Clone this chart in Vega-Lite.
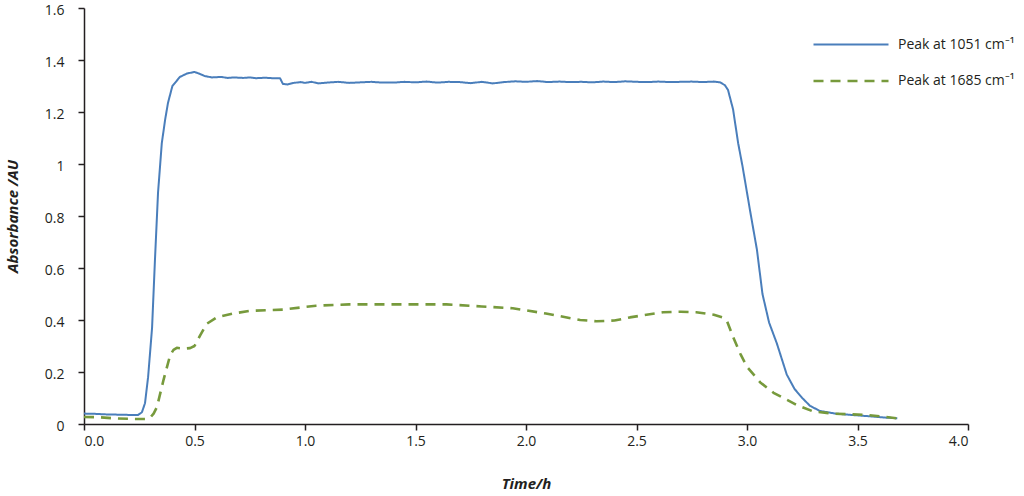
{
  "$schema": "https://vega.github.io/schema/vega-lite/v6.json",
  "width": 884,
  "height": 416,
  "autosize": {"type": "none"},
  "padding": {"left": 84, "top": 8, "right": 56, "bottom": 72},
  "config": {
    "view": {"stroke": null},
    "font": "Open Sans",
    "axis": {"grid": false, "domainColor": "#231f20", "tickColor": "#231f20", "domainWidth": 1.5, "tickWidth": 1.5, "tickSize": 6, "labelColor": "#231f20", "labelFont": "Open Sans", "labelFontSize": 14, "titleFont": "Open Sans", "titleFontSize": 15, "titleFontWeight": "bold", "titleFontStyle": "italic", "titleColor": "#231f20"}
  },
  "data": {"values": [
    {"t": 0.00, "a": 0.040, "s": "Peak at 1051 cm⁻¹"},
    {"t": 0.05, "a": 0.039, "s": "Peak at 1051 cm⁻¹"},
    {"t": 0.10, "a": 0.037, "s": "Peak at 1051 cm⁻¹"},
    {"t": 0.15, "a": 0.036, "s": "Peak at 1051 cm⁻¹"},
    {"t": 0.20, "a": 0.035, "s": "Peak at 1051 cm⁻¹"},
    {"t": 0.245, "a": 0.035, "s": "Peak at 1051 cm⁻¹"},
    {"t": 0.262, "a": 0.045, "s": "Peak at 1051 cm⁻¹"},
    {"t": 0.276, "a": 0.08, "s": "Peak at 1051 cm⁻¹"},
    {"t": 0.29, "a": 0.18, "s": "Peak at 1051 cm⁻¹"},
    {"t": 0.308, "a": 0.37, "s": "Peak at 1051 cm⁻¹"},
    {"t": 0.321, "a": 0.63, "s": "Peak at 1051 cm⁻¹"},
    {"t": 0.335, "a": 0.89, "s": "Peak at 1051 cm⁻¹"},
    {"t": 0.352, "a": 1.08, "s": "Peak at 1051 cm⁻¹"},
    {"t": 0.367, "a": 1.17, "s": "Peak at 1051 cm⁻¹"},
    {"t": 0.38, "a": 1.235, "s": "Peak at 1051 cm⁻¹"},
    {"t": 0.40, "a": 1.30, "s": "Peak at 1051 cm⁻¹"},
    {"t": 0.434, "a": 1.335, "s": "Peak at 1051 cm⁻¹"},
    {"t": 0.466, "a": 1.348, "s": "Peak at 1051 cm⁻¹"},
    {"t": 0.50, "a": 1.354, "s": "Peak at 1051 cm⁻¹"},
    {"t": 0.52, "a": 1.348, "s": "Peak at 1051 cm⁻¹"},
    {"t": 0.547, "a": 1.338, "s": "Peak at 1051 cm⁻¹"},
    {"t": 0.58, "a": 1.333, "s": "Peak at 1051 cm⁻¹"},
    {"t": 0.62, "a": 1.335, "s": "Peak at 1051 cm⁻¹"},
    {"t": 0.65, "a": 1.331, "s": "Peak at 1051 cm⁻¹"},
    {"t": 0.68, "a": 1.333, "s": "Peak at 1051 cm⁻¹"},
    {"t": 0.72, "a": 1.331, "s": "Peak at 1051 cm⁻¹"},
    {"t": 0.75, "a": 1.333, "s": "Peak at 1051 cm⁻¹"},
    {"t": 0.78, "a": 1.330, "s": "Peak at 1051 cm⁻¹"},
    {"t": 0.82, "a": 1.332, "s": "Peak at 1051 cm⁻¹"},
    {"t": 0.85, "a": 1.330, "s": "Peak at 1051 cm⁻¹"},
    {"t": 0.887, "a": 1.330, "s": "Peak at 1051 cm⁻¹"},
    {"t": 0.90, "a": 1.308, "s": "Peak at 1051 cm⁻¹"},
    {"t": 0.92, "a": 1.306, "s": "Peak at 1051 cm⁻¹"},
    {"t": 0.95, "a": 1.312, "s": "Peak at 1051 cm⁻¹"},
    {"t": 0.98, "a": 1.315, "s": "Peak at 1051 cm⁻¹"},
    {"t": 1.00, "a": 1.312, "s": "Peak at 1051 cm⁻¹"},
    {"t": 1.03, "a": 1.316, "s": "Peak at 1051 cm⁻¹"},
    {"t": 1.06, "a": 1.310, "s": "Peak at 1051 cm⁻¹"},
    {"t": 1.10, "a": 1.313, "s": "Peak at 1051 cm⁻¹"},
    {"t": 1.15, "a": 1.316, "s": "Peak at 1051 cm⁻¹"},
    {"t": 1.20, "a": 1.312, "s": "Peak at 1051 cm⁻¹"},
    {"t": 1.25, "a": 1.314, "s": "Peak at 1051 cm⁻¹"},
    {"t": 1.30, "a": 1.316, "s": "Peak at 1051 cm⁻¹"},
    {"t": 1.35, "a": 1.313, "s": "Peak at 1051 cm⁻¹"},
    {"t": 1.40, "a": 1.313, "s": "Peak at 1051 cm⁻¹"},
    {"t": 1.45, "a": 1.316, "s": "Peak at 1051 cm⁻¹"},
    {"t": 1.50, "a": 1.314, "s": "Peak at 1051 cm⁻¹"},
    {"t": 1.55, "a": 1.317, "s": "Peak at 1051 cm⁻¹"},
    {"t": 1.60, "a": 1.313, "s": "Peak at 1051 cm⁻¹"},
    {"t": 1.65, "a": 1.316, "s": "Peak at 1051 cm⁻¹"},
    {"t": 1.70, "a": 1.315, "s": "Peak at 1051 cm⁻¹"},
    {"t": 1.75, "a": 1.311, "s": "Peak at 1051 cm⁻¹"},
    {"t": 1.80, "a": 1.316, "s": "Peak at 1051 cm⁻¹"},
    {"t": 1.85, "a": 1.310, "s": "Peak at 1051 cm⁻¹"},
    {"t": 1.90, "a": 1.315, "s": "Peak at 1051 cm⁻¹"},
    {"t": 1.95, "a": 1.318, "s": "Peak at 1051 cm⁻¹"},
    {"t": 2.00, "a": 1.316, "s": "Peak at 1051 cm⁻¹"},
    {"t": 2.05, "a": 1.319, "s": "Peak at 1051 cm⁻¹"},
    {"t": 2.10, "a": 1.315, "s": "Peak at 1051 cm⁻¹"},
    {"t": 2.15, "a": 1.317, "s": "Peak at 1051 cm⁻¹"},
    {"t": 2.20, "a": 1.315, "s": "Peak at 1051 cm⁻¹"},
    {"t": 2.25, "a": 1.316, "s": "Peak at 1051 cm⁻¹"},
    {"t": 2.30, "a": 1.314, "s": "Peak at 1051 cm⁻¹"},
    {"t": 2.35, "a": 1.317, "s": "Peak at 1051 cm⁻¹"},
    {"t": 2.40, "a": 1.315, "s": "Peak at 1051 cm⁻¹"},
    {"t": 2.45, "a": 1.318, "s": "Peak at 1051 cm⁻¹"},
    {"t": 2.50, "a": 1.316, "s": "Peak at 1051 cm⁻¹"},
    {"t": 2.55, "a": 1.315, "s": "Peak at 1051 cm⁻¹"},
    {"t": 2.60, "a": 1.317, "s": "Peak at 1051 cm⁻¹"},
    {"t": 2.65, "a": 1.315, "s": "Peak at 1051 cm⁻¹"},
    {"t": 2.70, "a": 1.316, "s": "Peak at 1051 cm⁻¹"},
    {"t": 2.75, "a": 1.317, "s": "Peak at 1051 cm⁻¹"},
    {"t": 2.80, "a": 1.315, "s": "Peak at 1051 cm⁻¹"},
    {"t": 2.85, "a": 1.317, "s": "Peak at 1051 cm⁻¹"},
    {"t": 2.878, "a": 1.314, "s": "Peak at 1051 cm⁻¹"},
    {"t": 2.90, "a": 1.303, "s": "Peak at 1051 cm⁻¹"},
    {"t": 2.914, "a": 1.285, "s": "Peak at 1051 cm⁻¹"},
    {"t": 2.937, "a": 1.21, "s": "Peak at 1051 cm⁻¹"},
    {"t": 2.96, "a": 1.08, "s": "Peak at 1051 cm⁻¹"},
    {"t": 2.98, "a": 0.99, "s": "Peak at 1051 cm⁻¹"},
    {"t": 3.014, "a": 0.82, "s": "Peak at 1051 cm⁻¹"},
    {"t": 3.045, "a": 0.67, "s": "Peak at 1051 cm⁻¹"},
    {"t": 3.07, "a": 0.50, "s": "Peak at 1051 cm⁻¹"},
    {"t": 3.10, "a": 0.39, "s": "Peak at 1051 cm⁻¹"},
    {"t": 3.135, "a": 0.31, "s": "Peak at 1051 cm⁻¹"},
    {"t": 3.18, "a": 0.19, "s": "Peak at 1051 cm⁻¹"},
    {"t": 3.215, "a": 0.135, "s": "Peak at 1051 cm⁻¹"},
    {"t": 3.25, "a": 0.10, "s": "Peak at 1051 cm⁻¹"},
    {"t": 3.285, "a": 0.07, "s": "Peak at 1051 cm⁻¹"},
    {"t": 3.33, "a": 0.05, "s": "Peak at 1051 cm⁻¹"},
    {"t": 3.40, "a": 0.04, "s": "Peak at 1051 cm⁻¹"},
    {"t": 3.47, "a": 0.035, "s": "Peak at 1051 cm⁻¹"},
    {"t": 3.55, "a": 0.03, "s": "Peak at 1051 cm⁻¹"},
    {"t": 3.62, "a": 0.025, "s": "Peak at 1051 cm⁻¹"},
    {"t": 3.68, "a": 0.022, "s": "Peak at 1051 cm⁻¹"},
    {"t": 0.00, "a": 0.027, "s": "Peak at 1685 cm⁻¹"},
    {"t": 0.07, "a": 0.026, "s": "Peak at 1685 cm⁻¹"},
    {"t": 0.15, "a": 0.021, "s": "Peak at 1685 cm⁻¹"},
    {"t": 0.25, "a": 0.019, "s": "Peak at 1685 cm⁻¹"},
    {"t": 0.285, "a": 0.019, "s": "Peak at 1685 cm⁻¹"},
    {"t": 0.30, "a": 0.025, "s": "Peak at 1685 cm⁻¹"},
    {"t": 0.315, "a": 0.04, "s": "Peak at 1685 cm⁻¹"},
    {"t": 0.33, "a": 0.065, "s": "Peak at 1685 cm⁻¹"},
    {"t": 0.36, "a": 0.17, "s": "Peak at 1685 cm⁻¹"},
    {"t": 0.39, "a": 0.265, "s": "Peak at 1685 cm⁻¹"},
    {"t": 0.405, "a": 0.285, "s": "Peak at 1685 cm⁻¹"},
    {"t": 0.42, "a": 0.293, "s": "Peak at 1685 cm⁻¹"},
    {"t": 0.45, "a": 0.29, "s": "Peak at 1685 cm⁻¹"},
    {"t": 0.48, "a": 0.292, "s": "Peak at 1685 cm⁻¹"},
    {"t": 0.50, "a": 0.30, "s": "Peak at 1685 cm⁻¹"},
    {"t": 0.525, "a": 0.34, "s": "Peak at 1685 cm⁻¹"},
    {"t": 0.555, "a": 0.385, "s": "Peak at 1685 cm⁻¹"},
    {"t": 0.60, "a": 0.41, "s": "Peak at 1685 cm⁻¹"},
    {"t": 0.675, "a": 0.425, "s": "Peak at 1685 cm⁻¹"},
    {"t": 0.75, "a": 0.435, "s": "Peak at 1685 cm⁻¹"},
    {"t": 0.90, "a": 0.44, "s": "Peak at 1685 cm⁻¹"},
    {"t": 1.05, "a": 0.455, "s": "Peak at 1685 cm⁻¹"},
    {"t": 1.20, "a": 0.46, "s": "Peak at 1685 cm⁻¹"},
    {"t": 1.40, "a": 0.46, "s": "Peak at 1685 cm⁻¹"},
    {"t": 1.64, "a": 0.46, "s": "Peak at 1685 cm⁻¹"},
    {"t": 1.80, "a": 0.452, "s": "Peak at 1685 cm⁻¹"},
    {"t": 1.94, "a": 0.445, "s": "Peak at 1685 cm⁻¹"},
    {"t": 2.09, "a": 0.425, "s": "Peak at 1685 cm⁻¹"},
    {"t": 2.245, "a": 0.40, "s": "Peak at 1685 cm⁻¹"},
    {"t": 2.32, "a": 0.395, "s": "Peak at 1685 cm⁻¹"},
    {"t": 2.40, "a": 0.398, "s": "Peak at 1685 cm⁻¹"},
    {"t": 2.47, "a": 0.41, "s": "Peak at 1685 cm⁻¹"},
    {"t": 2.62, "a": 0.43, "s": "Peak at 1685 cm⁻¹"},
    {"t": 2.70, "a": 0.432, "s": "Peak at 1685 cm⁻¹"},
    {"t": 2.77, "a": 0.43, "s": "Peak at 1685 cm⁻¹"},
    {"t": 2.85, "a": 0.42, "s": "Peak at 1685 cm⁻¹"},
    {"t": 2.89, "a": 0.41, "s": "Peak at 1685 cm⁻¹"},
    {"t": 2.91, "a": 0.395, "s": "Peak at 1685 cm⁻¹"},
    {"t": 2.937, "a": 0.335, "s": "Peak at 1685 cm⁻¹"},
    {"t": 2.97, "a": 0.27, "s": "Peak at 1685 cm⁻¹"},
    {"t": 3.00, "a": 0.22, "s": "Peak at 1685 cm⁻¹"},
    {"t": 3.06, "a": 0.16, "s": "Peak at 1685 cm⁻¹"},
    {"t": 3.12, "a": 0.12, "s": "Peak at 1685 cm⁻¹"},
    {"t": 3.225, "a": 0.073, "s": "Peak at 1685 cm⁻¹"},
    {"t": 3.30, "a": 0.048, "s": "Peak at 1685 cm⁻¹"},
    {"t": 3.39, "a": 0.04, "s": "Peak at 1685 cm⁻¹"},
    {"t": 3.54, "a": 0.035, "s": "Peak at 1685 cm⁻¹"},
    {"t": 3.60, "a": 0.03, "s": "Peak at 1685 cm⁻¹"},
    {"t": 3.68, "a": 0.022, "s": "Peak at 1685 cm⁻¹"}
  ]},
  "mark": {"type": "line", "strokeJoin": "round"},
  "encoding": {
    "x": {"field": "t", "type": "quantitative", "scale": {"domain": [0, 4], "nice": false},
      "axis": {"title": "Time/h", "values": [0, 0.5, 1, 1.5, 2, 2.5, 3, 3.5, 4], "format": ".1f", "labelPadding": 4, "titlePadding": 28}},
    "y": {"field": "a", "type": "quantitative", "scale": {"domain": [0, 1.6], "nice": false},
      "axis": {"title": "Absorbance /AU", "values": [0, 0.2, 0.4, 0.6, 0.8, 1, 1.2, 1.4, 1.6], "format": "~g", "labelPadding": 14, "labelOffset": 2, "titlePadding": 24}},
    "color": {"field": "s", "type": "nominal",
      "scale": {"domain": ["Peak at 1051 cm⁻¹", "Peak at 1685 cm⁻¹"], "range": ["#4a7ebb", "#779a3c"]},
      "legend": {"title": null, "orient": "none", "legendX": 753, "legendY": 23, "padding": 0, "symbolType": "M-3,0H3", "symbolSize": 625, "symbolStrokeWidth": 2, "labelOffset": 33, "rowPadding": 15, "labelFontSize": 14, "labelFont": "Open Sans", "labelColor": "#231f20"}},
    "strokeDash": {"field": "s", "type": "nominal",
      "scale": {"domain": ["Peak at 1051 cm⁻¹", "Peak at 1685 cm⁻¹"], "range": [[1, 0], [10, 7]]}},
    "strokeWidth": {"field": "s", "type": "nominal",
      "scale": {"domain": ["Peak at 1051 cm⁻¹", "Peak at 1685 cm⁻¹"], "range": [2, 2.6]}, "legend": null}
  }
}
